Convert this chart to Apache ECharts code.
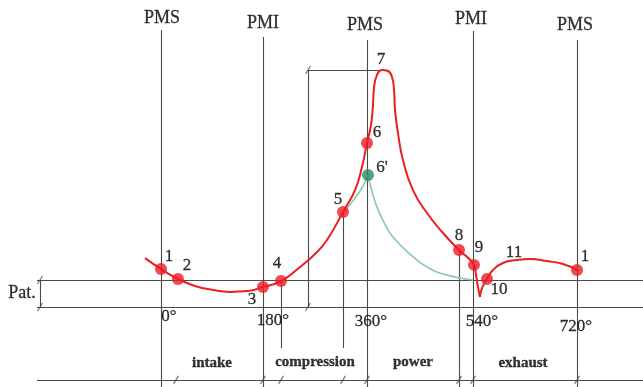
<!DOCTYPE html>
<html><head><meta charset="utf-8">
<script src="https://cdn.jsdelivr.net/npm/echarts@6/dist/echarts.min.js"></script>
<style>html,body{margin:0;padding:0;background:#fff}#c{width:643px;height:387px}</style>
</head><body><div id="c"></div>
<script>
// ---------- data (crank angle in degrees, pressure in bar; Pat = 1) ----------
const crankTicks = [0, 180, 360, 540, 720];
const crankTickLabels = ['0°', '180°', '360°', '540°', '720°'];
const deadCenterNames = ['PMS', 'PMI', 'PMS', 'PMI', 'PMS'];
const deadCenterDeg = [0, 176.5, 356.5, 540, 720];
const deadCenterTop = [10.26, 10.0, 9.89, 10.22, 9.89];
const phaseNames = ['intake', 'compression', 'power', 'exhaust'];
const phaseMid = [90, 270, 450, 630];
const patLabel = 'Pat.';
const atmosphericP = 1;
const baseP = 0;
const dimLineP = -2.70;

// real cycle (red)
const redDeg = [-27.7, 0, 29.4, 58.8, 90, 119.4, 150.6, 176.5, 207.7, 240.6, 266.5, 287.3, 315, 335.8, 347.9, 356.5,
  363.5, 366.9, 368.6, 373.8, 382.5, 392.9, 399.8, 403.3, 405, 410.2, 418.8, 436.1, 460.4, 488.1, 515.8,
  541.7, 545.2, 548.6, 552.1, 555.6, 564.2, 574.6, 591.9, 616.1, 638.6, 668, 695.7, 720];
const redP = [1.81, 1.41, 1.04, 0.78, 0.63, 0.56, 0.59, 0.74, 0.96, 1.48, 1.96, 2.48, 3.52, 4.33, 5.19, 6.07,
  6.74, 7.48, 8.11, 8.59, 8.78, 8.74, 8.52, 8.04, 7.30, 6.44, 5.44, 4.33, 3.48, 2.74, 2.11,
  1.56, 1.19, 0.74, 0.37, 0.70, 1.04, 1.37, 1.63, 1.74, 1.78, 1.70, 1.59, 1.37];
const redDipIndex = 34;

// theoretical curve (green)
const greenDeg = [316.7, 335.8, 349.6, 358.3, 363.5, 373.8, 387.7, 401.5, 431, 460.4, 495, 540];
const greenP = [3.52, 4.04, 4.48, 4.89, 4.41, 3.70, 3.06, 2.59, 1.96, 1.48, 1.18, 1.0];
const greenCuspIndex = 3;

// marked points
const pointNames = ['1', '2', '3', '4', '5', '6', '8', '9', '10', '1'];
const pointDeg = [0, 29.4, 176.5, 207.7, 315, 356.5, 515.8, 541.7, 564.2, 720];
const pointP = [1.41, 1.04, 0.74, 0.96, 3.52, 6.07, 2.11, 1.56, 1.04, 1.37];
const primeName = "6'";
const primeDeg = 358.3;
const primeP = 4.89;
const peakName = '7';
const curveLabelName = '11';
const curveLabelDeg = 616.1;

// construction lines
const dropDeg = [207.7, 315];
const dropTo = -1.52;
const dim8Deg = 515.8;
const bracketDeg = 254.4;
const patBracketDeg = -209.4;
const lineStartDeg = -214.6;
const bottomTickDeg = [26, 176.5, 207.7, 315, 356.5, 515.8, 540, 720];

// ---------- layout (pixel offsets only) ----------
const X_MIN = -278.6, X_MAX = 834.2, Y_MIN = -2.963, Y_MAX = 11.37;
const deadCenterLabelOffset = [[1, -12], [0, -14], [-2, -15], [-2, -12], [-2, -15]];
const tickLabelOffset = [[8, 10], [8, 14], [2, 15], [9, 15], [-1, 20]];
const phaseLabelOffset = [[-1, 56], [-2, 55], [-8, 55], [-2, 56]];
const pointLabelOffset = [[8, -12], [9, -13], [-11, 13], [-4, -18], [-5, -12], [10, -11], [0, -14], [5, -17], [12, 11], [8, -13]];
const FONT = "'Liberation Serif', 'DejaVu Serif', serif";
const INK = '#000000';
const GUIDE = '#4a4a4a';
const RED = '#ee1c24';

// ---------- build ----------
const segs = [];
const seg = (a, b) => segs.push({ coords: [a, b] });
deadCenterDeg.forEach((d, i) => seg([d, deadCenterTop[i]], [d, Y_MIN]));
[atmosphericP, baseP, dimLineP].forEach(p => seg([lineStartDeg, p], [X_MAX, p]));
dropDeg.forEach((d) => {
  const k = pointDeg.indexOf(d);
  seg([d, pointP[k]], [d, dropTo]);
});
seg([dim8Deg, pointP[pointDeg.indexOf(dim8Deg)]], [dim8Deg, Y_MIN]);
let peakIdx = 0;
redP.forEach((p, i) => { if (p > redP[peakIdx]) peakIdx = i; });
seg([bracketDeg, baseP], [bracketDeg, redP[peakIdx]]);
seg([bracketDeg, redP[peakIdx]], [redDeg[peakIdx], redP[peakIdx]]);
seg([patBracketDeg, baseP], [patBracketDeg, atmosphericP]);

const slashes = bottomTickDeg.map(d => [d, dimLineP])
  .concat([[patBracketDeg, atmosphericP], [patBracketDeg, baseP], [bracketDeg, redP[peakIdx]], [bracketDeg, baseP]]);

const zip = (xs, ys) => xs.map((x, i) => [x, ys[i]]);
const red = zip(redDeg, redP);
const green = zip(greenDeg, greenP);

const texts = [];
const txt = (x, y, t, off, size, bold) => texts.push({
  value: [x, y],
  label: { formatter: t, offset: off, fontSize: size, fontWeight: bold ? 'bold' : 'normal' }
});
deadCenterNames.forEach((n, i) => txt(deadCenterDeg[i], deadCenterTop[i], n, deadCenterLabelOffset[i], 18));
crankTicks.forEach((d, i) => txt(d, baseP, crankTickLabels[i], tickLabelOffset[i], 17));
phaseNames.forEach((n, i) => txt(phaseMid[i], baseP, n, phaseLabelOffset[i], 15, true));
txt(patBracketDeg, (atmosphericP + baseP) / 2, patLabel, [-18, 0], 18);
txt(redDeg[peakIdx], redP[peakIdx], peakName, [-1, -10], 17);
txt(curveLabelDeg, redP[redDeg.indexOf(curveLabelDeg)], curveLabelName, [-3, -7], 17);
pointNames.forEach((n, i) => txt(pointDeg[i], pointP[i], n, pointLabelOffset[i], 17));
txt(primeDeg, primeP, primeName, [14, -7], 17);

const curve = (data, color, width) => ({
  type: 'line', data, symbol: 'none', smooth: 0.5, silent: true,
  lineStyle: { color, width }, z: 3
});

const chart = echarts.init(document.getElementById('c'), null, { renderer: 'canvas' });
chart.setOption({
  animation: false,
  backgroundColor: '#ffffff',
  grid: { left: 0, right: 0, top: 0, bottom: 0 },
  xAxis: { type: 'value', min: X_MIN, max: X_MAX, show: false },
  yAxis: { type: 'value', min: Y_MIN, max: Y_MAX, show: false },
  series: [
    { type: 'lines', coordinateSystem: 'cartesian2d', data: segs, silent: true, z: 1,
      lineStyle: { color: GUIDE, width: 1.1, opacity: 1 } },
    { type: 'scatter', data: slashes, symbol: 'path://M0,12L8,0', symbolSize: [5, 8], silent: true, z: 2,
      itemStyle: { color: 'none', borderColor: GUIDE, borderWidth: 1.2 } },
    curve(green.slice(0, greenCuspIndex + 1), '#8cc9ae', 1.6),
    curve(green.slice(greenCuspIndex), '#8cc9ae', 1.6),
    curve(red.slice(0, redDipIndex + 1), RED, 2),
    curve(red.slice(redDipIndex), RED, 2),
    { type: 'scatter', data: zip(pointDeg, pointP), symbolSize: 12, silent: true, z: 5,
      itemStyle: { color: RED } },
    { type: 'scatter', data: [[primeDeg, primeP]], symbolSize: 12, silent: true, z: 5,
      itemStyle: { color: '#2e8b57' } },
    { type: 'scatter', data: texts, symbolSize: 1, silent: true, z: 6,
      itemStyle: { color: 'rgba(0,0,0,0)' },
      label: { show: true, position: 'inside', color: INK, textBorderColor: INK, textBorderWidth: 0.3,
        fontFamily: FONT, fontSize: 17 } }
  ]
});
</script></body></html>
